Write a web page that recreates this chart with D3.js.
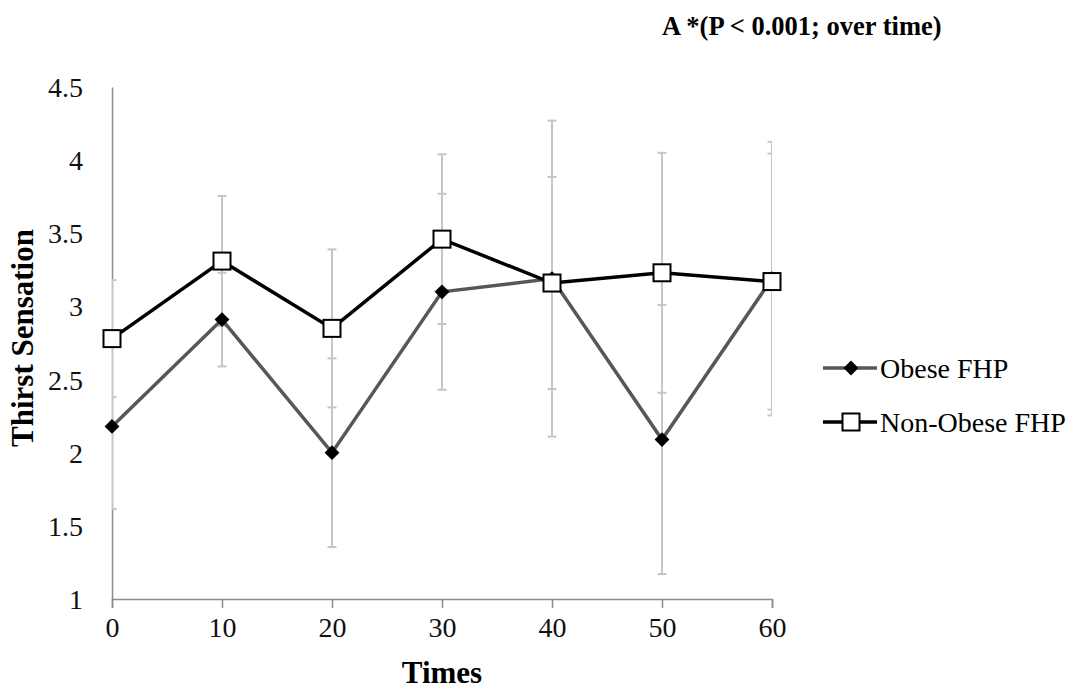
<!DOCTYPE html>
<html>
<head>
<meta charset="utf-8">
<script src="https://cdn.jsdelivr.net/npm/d3@7/dist/d3.min.js"></script>
<style>
  html, body { margin: 0; padding: 0; background: #fff; }
  svg { display: block; }
</style>
</head>
<body>
<svg id="chart" width="1081" height="692"></svg>
<script>
// Thirst sensation over time, mean with SD error bars
const times = [0, 10, 20, 30, 40, 50, 60];
const obeseMean = [2.18, 2.91, 2.00, 3.10, 3.19, 2.09, 3.19];
const obeseSD = [0.565, 0.32, 0.645, 0.67, 1.08, 0.92, 0.935];
const nonObeseMean = [2.78, 3.31, 2.85, 3.46, 3.16, 3.23, 3.17];
const nonObeseSD = [0.40, 0.445, 0.54, 0.58, 0.725, 0.82, 0.875];
const yTickValues = [1, 1.5, 2, 2.5, 3, 3.5, 4, 4.5];
const yTickLabels = ["1", "1.5", "2", "2.5", "3", "3.5", "4", "4.5"];
const xTickLabels = ["0", "10", "20", "30", "40", "50", "60"];
const seriesNames = ["Obese FHP", "Non-Obese FHP"];
const titleText = "A *(P < 0.001; over time)";
const xTitle = "Times";
const yTitle = "Thirst Sensation";

const FONT = "Liberation Serif";
const svg = d3.select("#chart");
const plotLeft = 112, plotRight = 772, plotTop = 87, plotBottom = 599;

const x = d3.scaleLinear().domain([0, 60]).range([plotLeft, plotRight]);
const y = d3.scaleLinear().domain([1, 4.5]).range([plotBottom, plotTop]);

const axisColor = "#8c8c8c";

svg.append("defs").append("clipPath").attr("id", "plotClip")
  .append("rect").attr("x", plotLeft).attr("y", plotTop)
  .attr("width", plotRight - plotLeft).attr("height", plotBottom - plotTop);

// Axes
const xAxis = svg.append("g").attr("transform", `translate(0,${plotBottom})`)
  .call(d3.axisBottom(x).tickValues(times).tickSize(9).tickPadding(9)
    .tickFormat((d, i) => xTickLabels[i]));
xAxis.attr("font-family", FONT);
xAxis.select(".domain").attr("stroke", axisColor).attr("stroke-width", 1.5);
xAxis.selectAll(".tick line").attr("stroke", axisColor).attr("stroke-width", 1.5);
xAxis.selectAll(".tick text").attr("font-family", FONT).attr("font-size", 28).attr("fill", "#111");

const yAxis = svg.append("g").attr("transform", `translate(${plotLeft},0)`)
  .call(d3.axisLeft(y).tickValues(yTickValues).tickSize(0).tickPadding(29)
    .tickFormat((d, i) => yTickLabels[i]));
yAxis.attr("font-family", FONT);
yAxis.select(".domain").attr("stroke", axisColor).attr("stroke-width", 1.5);
yAxis.selectAll(".tick text").attr("font-family", FONT).attr("font-size", 28).attr("fill", "#111")
  .attr("dy", "0.34em");

// Error bars
const errColor = "#c6c6c6";
const errG = svg.append("g").attr("clip-path", "url(#plotClip)");
function drawErrors(means, sds) {
  times.forEach((t, i) => {
    const cx = x(t), y1 = y(means[i] + sds[i]), y0 = y(means[i] - sds[i]);
    errG.append("line").attr("x1", cx).attr("x2", cx).attr("y1", y1).attr("y2", y0)
      .attr("stroke", errColor).attr("stroke-width", 2);
    [y1, y0].forEach(yy => errG.append("line")
      .attr("x1", cx - 4.5).attr("x2", cx + 4.5).attr("y1", yy).attr("y2", yy)
      .attr("stroke", errColor).attr("stroke-width", 2));
  });
}
drawErrors(obeseMean, obeseSD);
drawErrors(nonObeseMean, nonObeseSD);

const line = d3.line().x(d => x(d[0])).y(d => y(d[1]));
const diamond = d3.symbol().type(d3.symbolDiamond2).size(140);

// Obese FHP series
svg.append("path").datum(times.map((t, i) => [t, obeseMean[i]]))
  .attr("d", line).attr("fill", "none").attr("stroke", "#575757")
  .attr("stroke-width", 3.5);
svg.append("g").selectAll("path").data(times.map((t, i) => [t, obeseMean[i]]))
  .join("path").attr("d", diamond)
  .attr("transform", d => `translate(${x(d[0])},${y(d[1])})`)
  .attr("fill", "#000");

// Non-Obese FHP series
svg.append("path").datum(times.map((t, i) => [t, nonObeseMean[i]]))
  .attr("d", line).attr("fill", "none").attr("stroke", "#000")
  .attr("stroke-width", 3.5);
svg.append("g").selectAll("rect").data(times.map((t, i) => [t, nonObeseMean[i]]))
  .join("rect")
  .attr("x", d => x(d[0]) - 8.5).attr("y", d => y(d[1]) - 8.5)
  .attr("width", 17).attr("height", 17)
  .attr("fill", "#fff").attr("stroke", "#000").attr("stroke-width", 2);

// Legend
const lg = svg.append("g");
lg.append("line").attr("x1", 823).attr("x2", 877).attr("y1", 368).attr("y2", 368)
  .attr("stroke", "#575757").attr("stroke-width", 3.5);
lg.append("path").attr("d", diamond).attr("transform", "translate(851,368)").attr("fill", "#000");
lg.append("text").attr("x", 880).attr("y", 378).attr("font-family", FONT)
  .attr("font-size", 28).text(seriesNames[0]);
lg.append("line").attr("x1", 823).attr("x2", 877).attr("y1", 422).attr("y2", 422)
  .attr("stroke", "#000").attr("stroke-width", 3.5);
lg.append("rect").attr("x", 842.5).attr("y", 413.5).attr("width", 17).attr("height", 17)
  .attr("fill", "#fff").attr("stroke", "#000").attr("stroke-width", 2);
lg.append("text").attr("x", 880).attr("y", 432).attr("font-family", FONT)
  .attr("font-size", 28).text(seriesNames[1]);

// Titles
svg.append("text").attr("x", 662).attr("y", 35).attr("font-family", FONT)
  .attr("font-size", 26.5).attr("font-weight", "bold").text(titleText);
svg.append("text").attr("x", 442).attr("y", 683).attr("text-anchor", "middle")
  .attr("font-family", FONT).attr("font-size", 31).attr("font-weight", "bold").text(xTitle);
svg.append("text").attr("transform", "translate(33,338) rotate(-90)")
  .attr("text-anchor", "middle").attr("font-family", FONT)
  .attr("font-size", 31).attr("font-weight", "bold").text(yTitle);
</script>
</body>
</html>
